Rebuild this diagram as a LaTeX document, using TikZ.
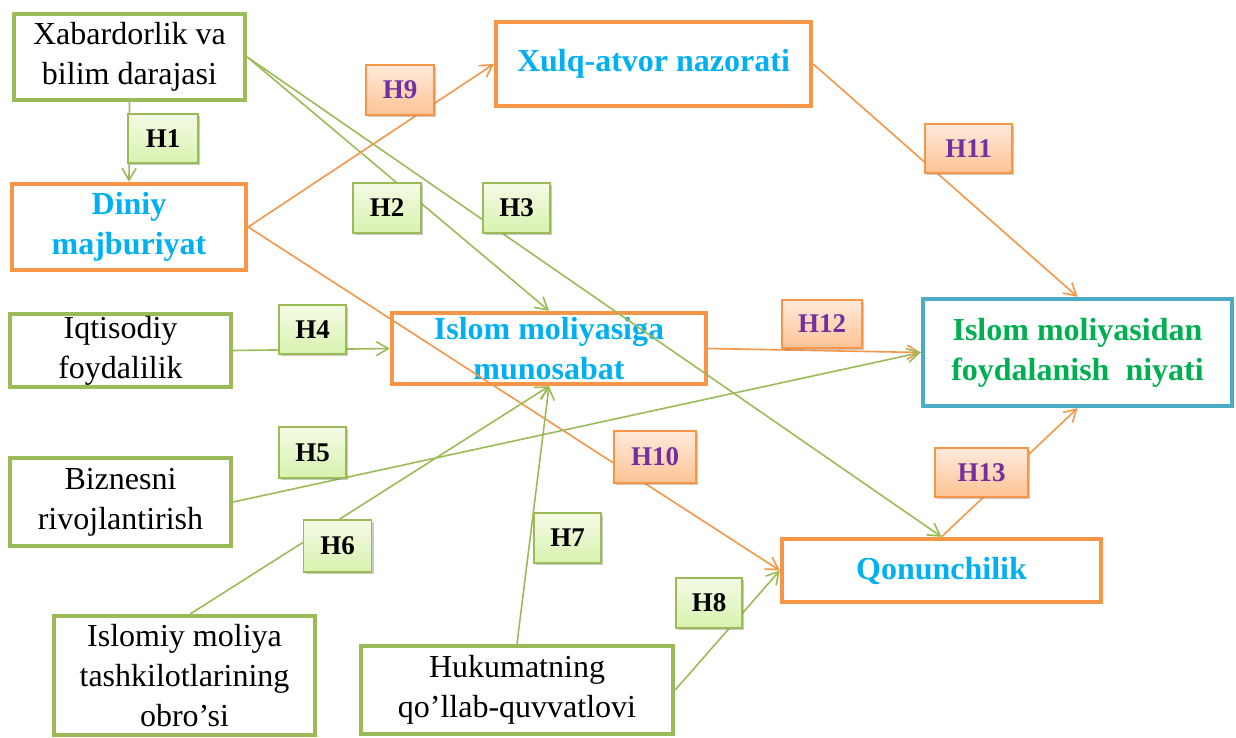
\documentclass[tikz,border=0pt]{standalone}
\usepackage{fontspec}
\setmainfont{Liberation Serif}
\usetikzlibrary{arrows.meta,shadows}
\definecolor{grn}{HTML}{9BBB59}
\definecolor{org}{HTML}{F79646}
\definecolor{blu}{HTML}{4BACC6}
\definecolor{cyn}{HTML}{00B0F0}
\definecolor{gtxt}{HTML}{00B050}
\definecolor{purp}{HTML}{7030A0}
\definecolor{gtop}{HTML}{F4FBE6}
\definecolor{gbot}{HTML}{D8F2AE}
\definecolor{otop}{HTML}{FFEADB}
\definecolor{obot}{HTML}{FDC394}
\tikzset{
  mainbox/.style={draw, line width=2.2pt, fill=white, inner sep=0pt, align=center,
    font=\fontsize{16}{20}\selectfont},
  gbox/.style={mainbox, draw=grn, text=black},
  obox/.style={mainbox, draw=org, text=cyn, font=\fontsize{16}{20}\selectfont\bfseries},
  fbox/.style={mainbox, draw=blu, text=gtxt, font=\fontsize{16}{20}\selectfont\bfseries},
  lbl/.style={draw, line width=0.6pt, inner sep=0pt, align=center,
    font=\fontsize{13.5}{16}\selectfont\bfseries,
    drop shadow={shadow xshift=1.2pt, shadow yshift=-1.2pt, opacity=0.35, fill=black!60}},
  glbl/.style={lbl, draw=grn, top color=gtop, bottom color=gbot, text=black},
  olbl/.style={lbl, draw=org, top color=otop, bottom color=obot, text=purp},
  gconn/.style={draw=grn, line width=0.8pt, -{Straight Barb[length=6pt,width=7pt]}},
  oconn/.style={draw=org, line width=0.8pt, -{Straight Barb[length=6pt,width=7pt]}},
}
\begin{document}
\begin{tikzpicture}[x=0.5pt,y=-0.5pt]
\useasboundingbox (0,0) rectangle (1236,738);
\fill[white] (0,0) rectangle (1236,738);

% main boxes
\node[gbox, minimum width=115.5pt, minimum height=43pt] (A) at (129.5,57) {Xabardorlik va\\bilim darajasi};
\node[obox, minimum width=117pt, minimum height=43pt] (D) at (129,227) {Diniy\\majburiyat};
\node[obox, minimum width=157.5pt, minimum height=42pt] (X) at (653.5,64) {Xulq-atvor nazorati};
\node[gbox, minimum width=110.5pt, minimum height=36.5pt] (I) at (120.5,350.5) {Iqtisodiy\\foydalilik};
\node[obox, minimum width=157pt, minimum height=35.5pt] (M) at (549,348.5) {Islom moliyasiga\\munosabat};
\node[fbox, minimum width=154.5pt, minimum height=53.5pt] (F) at (1077.5,352.5) {Islom moliyasidan\\foydalanish\ \ niyati};
\node[gbox, minimum width=110.5pt, minimum height=44pt] (B) at (120.5,502) {Biznesni\\rivojlantirish};
\node[gbox, minimum width=130.5pt, minimum height=59.5pt] (O) at (184.5,675.5) {Islomiy moliya\\tashkilotlarining\\obro’si};
\node[gbox, minimum width=156pt, minimum height=44pt] (G) at (517,690) {Hukumatning\\qo’llab-quvvatlovi};
\node[obox, minimum width=159.5pt, minimum height=31.5pt] (Q) at (941.5,570.5) {Qonunchilik};

% connectors
\draw[gconn] (A.south) -- (D.north);
\draw[gconn] (A.east) -- (M.north);
\draw[gconn] (A.east) -- (Q.north);
\draw[oconn] (D.east) -- (X.west);
\draw[oconn] (D.east) -- (Q.west);
\draw[oconn] (X.east) -- (F.north);
\draw[gconn] (I.east) -- (M.west);
\draw[oconn] (M.east) -- (F.west);
\draw[gconn] (B.east) -- (F.west);
\draw[gconn] ([xshift=3pt]O.north) -- (M.south);
\draw[gconn] (G.north) -- (M.south);
\draw[gconn] (G.east) -- (Q.west);
\draw[oconn] (Q.north) -- (F.south);

% labels
\node[glbl, minimum width=35pt, minimum height=24.5pt] (h1) at (163,138.5) {H1};
\node[olbl, minimum width=34pt, minimum height=25pt] (h9) at (400,90) {H9};
\node[glbl, minimum width=34pt, minimum height=25pt] (h2) at (387,208) {H2};
\node[glbl, minimum width=33.5pt, minimum height=25pt] (h3) at (516.5,208) {H3};
\node[olbl, minimum width=43.5pt, minimum height=24.5pt] (h11) at (968.5,148.5) {H11};
\node[glbl, minimum width=33.5pt, minimum height=24.5pt] (h4) at (312.5,329.5) {H4};
\node[olbl, minimum width=40pt, minimum height=24pt] (h12) at (822,324) {H12};
\node[glbl, minimum width=33.5pt, minimum height=25.5pt] (h5) at (312.5,452.5) {H5};
\node[olbl, minimum width=41pt, minimum height=26pt] (h10) at (655,457) {H10};
\node[glbl, minimum width=34pt, minimum height=26pt] (h6) at (337.5,546) {H6};
\node[glbl, minimum width=33.5pt, minimum height=25pt] (h7) at (567.5,538) {H7};
\node[glbl, minimum width=33pt, minimum height=25pt] (h8) at (709,603) {H8};
\node[olbl, minimum width=46.5pt, minimum height=24.5pt] (h13) at (981.5,472.5) {H13};
\end{tikzpicture}
\end{document}
